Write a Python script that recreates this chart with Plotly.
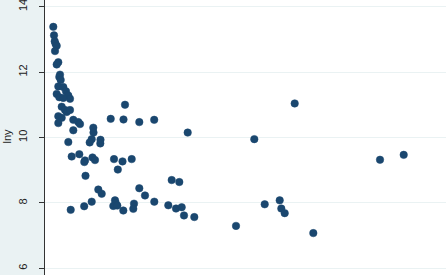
import plotly.graph_objects as go

# x variable (unlabelled axis, not visible in the crop)
x = [0.83, 0.90, 0.97, 1.05, 1.17, 1.00, 1.33, 1.17, 1.50, 1.43,
     1.57, 1.33, 1.83, 2.10, 1.17, 1.43, 2.33, 2.50, 1.83, 1.67,
     2.00, 2.17, 2.50, 1.33, 1.67, 1.33, 2.83, 3.33, 3.50, 2.83,
     4.83, 4.85, 4.67, 5.55, 5.53, 2.33, 4.47, 6.57, 8.00, 7.85,
     9.43, 10.92, 14.27, 20.93, 24.97, 2.67, 3.43, 4.00, 3.93, 4.75,
     5.00, 6.90, 7.75, 8.67, 7.28, 4.05, 5.33, 5.67, 9.43, 10.00,
     2.57, 3.92, 4.67, 7.00, 7.07, 6.83, 7.23, 7.83, 8.90, 8.83,
     10.93, 12.67, 13.43, 12.33, 13.10, 13.67, 13.90, 14.93, 19.10, 21.97,
     23.47, 23.63, 23.97, 26.83, 33.50, 35.87]

lny = [13.38, 13.12, 12.94, 12.86, 12.80, 12.64, 12.30, 12.23, 11.92, 11.85,
       11.76, 11.56, 11.54, 11.41, 11.33, 11.23, 11.28, 11.18, 11.21, 10.94,
       10.84, 10.78, 10.84, 10.65, 10.60, 10.44, 10.54, 10.47, 10.41, 10.22,
       10.30, 10.15, 9.95, 9.93, 9.82, 9.86, 9.85, 10.57, 11.00, 10.55,
       10.47, 10.54, 10.15, 9.95, 11.04, 9.42, 9.49, 9.30, 9.25, 9.39,
       9.31, 9.34, 9.27, 9.34, 9.02, 8.83, 8.41, 8.28, 8.45, 8.23,
       7.79, 7.90, 8.04, 8.08, 8.00, 7.91, 7.92, 7.77, 7.98, 7.82,
       8.04, 8.70, 8.64, 7.93, 7.83, 7.87, 7.62, 7.57, 7.30, 7.96,
       8.08, 7.83, 7.69, 7.08, 9.32, 9.47]

y_ticks = [6, 8, 10, 12, 14]
y_title = "lny"

fig = go.Figure()
fig.add_trace(go.Scatter(
    x=x, y=lny, mode="markers",
    marker=dict(color="#1a476f", size=7.5,
                line=dict(color="#1a476f", width=0.5)),
    showlegend=False,
    cliponaxis=False,
))

fig.update_layout(
    width=446, height=275,
    margin=dict(l=45, r=0, t=0, b=0, autoexpand=False),
    paper_bgcolor="#eaf2f3",
    plot_bgcolor="#ffffff",
    font=dict(family="Liberation Sans, Arial, sans-serif", size=11, color="#222222"),
    xaxis=dict(range=[0, 40.1], visible=False, showgrid=False, zeroline=False,
               automargin=False),
    yaxis=dict(
        range=[5.80, 14.20],
        tickvals=y_ticks,
        ticktext=[str(v) for v in y_ticks],
        tickangle=-90,
        ticks="outside", ticklen=5, tickcolor="#333333", tickwidth=1,
        ticklabelstandoff=8,
        ticklabeloverflow="allow",
        showline=True, linecolor="#333333", linewidth=1,
        showgrid=True, gridcolor="#eaf2f3", gridwidth=1,
        zeroline=False,
        automargin=False,
        tickfont=dict(size=11, color="#222222"),
    ),
    annotations=[dict(
        text=y_title, textangle=-90,
        xref="paper", yref="paper", x=-38.5/401, y=1 - 136/275,
        xanchor="center", yanchor="middle", showarrow=False,
        font=dict(size=11, color="#222222"),
    )],
)

fig.write_html(
    "out.html",
    config={"displayModeBar": False},
    post_script="document.body.style.margin='0';document.body.style.overflow='hidden';",
)
